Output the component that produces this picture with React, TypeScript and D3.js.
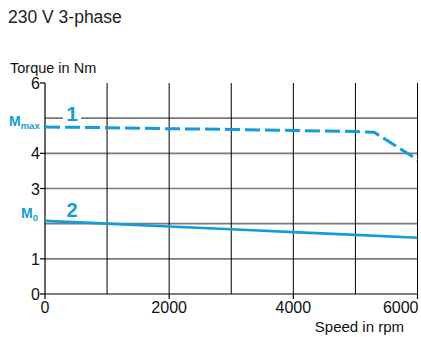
import React from "react";
import * as d3 from "d3";

const title = "230 V 3-phase";
const yTitle = "Torque in Nm";
const xTitle = "Speed in rpm";
const xTicks = [0, 2000, 4000, 6000];
const xGrid = [1000, 2000, 3000, 4000, 5000, 6000];
const yTicks = [0, 1, 3, 4, 6];
const yGrid = [1, 2, 3, 4, 5];
const mmax = 4.75;
const m0 = 2.08;
// curve 1 (dashed, peak torque)
const curve1Speed = [0, 1000, 2000, 3000, 4000, 5000, 5300, 6000];
const curve1Torque = [4.75, 4.73, 4.7, 4.68, 4.65, 4.62, 4.6, 3.82];
// curve 2 (solid, continuous torque)
const curve2Speed = [0, 1000, 2000, 3000, 4000, 5000, 6000];
const curve2Torque = [2.08, 2.0, 1.92, 1.84, 1.76, 1.68, 1.6];

const BLUE = "#149cd8";
const FONT = "'Liberation Sans', Arial, sans-serif";

export default function App() {
  const W = 421, H = 337;
  const x = d3.scaleLinear().domain([0, 6000]).range([45, 417.5]);
  const y = d3.scaleLinear().domain([0, 6]).range([294, 83]);
  const line = d3.line<[number, number]>().x(d => x(d[0])).y(d => y(d[1]));
  const c1 = curve1Speed.map((s, i) => [s, curve1Torque[i]] as [number, number]);
  const c2 = curve2Speed.map((s, i) => [s, curve2Torque[i]] as [number, number]);
  return (
    <svg width={W} height={H} style={{ position: "absolute", left: 0, top: 0, background: "#fff" }} fontFamily={FONT}>
      <rect width={W} height={H} fill="#fff" />
      <text x={8} y={23} fontSize={17.5} fill="#222">{title}</text>
      <text x={10} y={73} fontSize={14.5} fill="#111">{yTitle}</text>
      {yGrid.map(v => (
        <line key={"hg" + v} x1={x(0)} x2={x(6000)} y1={y(v)} y2={y(v)} stroke="#7a7a7a" strokeWidth={1.6} />
      ))}
      {xGrid.map(v => (
        <line key={"vg" + v} x1={x(v)} x2={x(v)} y1={y(0)} y2={y(6)} stroke="#000" strokeWidth={1} />
      ))}
      {/* axes */}
      <line x1={x(0)} x2={x(0)} y1={y(0)} y2={y(6)} stroke="#000" strokeWidth={1.2} />
      <line x1={x(0)} x2={x(6000)} y1={y(0)} y2={y(0)} stroke="#000" strokeWidth={1.2} />
      {yTicks.map(v => (
        <g key={"yt" + v}>
          <line x1={x(0) - 5} x2={x(0)} y1={y(v)} y2={y(v)} stroke="#000" strokeWidth={1.2} />
          <text x={40} y={y(v) + 6} fontSize={16} textAnchor="end" fill="#111">{v}</text>
        </g>
      ))}
      {xTicks.map(v => (
        <g key={"xt" + v}>
          <line x1={x(v)} x2={x(v)} y1={y(0)} y2={y(0) + 5} stroke="#000" strokeWidth={1.2} />
          <text x={v === 6000 ? x(v) + 1 : x(v)} y={y(0) + 19} fontSize={16} textAnchor={v === 6000 ? "end" : "middle"} fill="#111">{v}</text>
        </g>
      ))}
      <text x={404} y={332} fontSize={15} textAnchor="end" fill="#111">{xTitle}</text>
      {/* curve labels with white knockout */}
      <rect x={63} y={104} width={18} height={20} fill="#fff" />
      <text x={72} y={121} fontSize={21} fontWeight="bold" fill={BLUE} textAnchor="middle">1</text>
      <text x={72} y={217} fontSize={20} fontWeight="bold" fill={BLUE} textAnchor="middle">2</text>
      <text x={9} y={y(mmax) - 1} fontSize={14} fontWeight="bold" fill={BLUE}>
        M<tspan fontSize={9.5} dy={3}>max</tspan>
      </text>
      <text x={21} y={y(m0) - 3} fontSize={14} fontWeight="bold" fill={BLUE}>
        M<tspan fontSize={9.5} dy={3}>0</tspan>
      </text>
      <path d={line(c1) || ""} fill="none" stroke={BLUE} strokeWidth={3} strokeDasharray="15 5" />
      <path d={line(c2) || ""} fill="none" stroke={BLUE} strokeWidth={2.6} />
    </svg>
  );
}
